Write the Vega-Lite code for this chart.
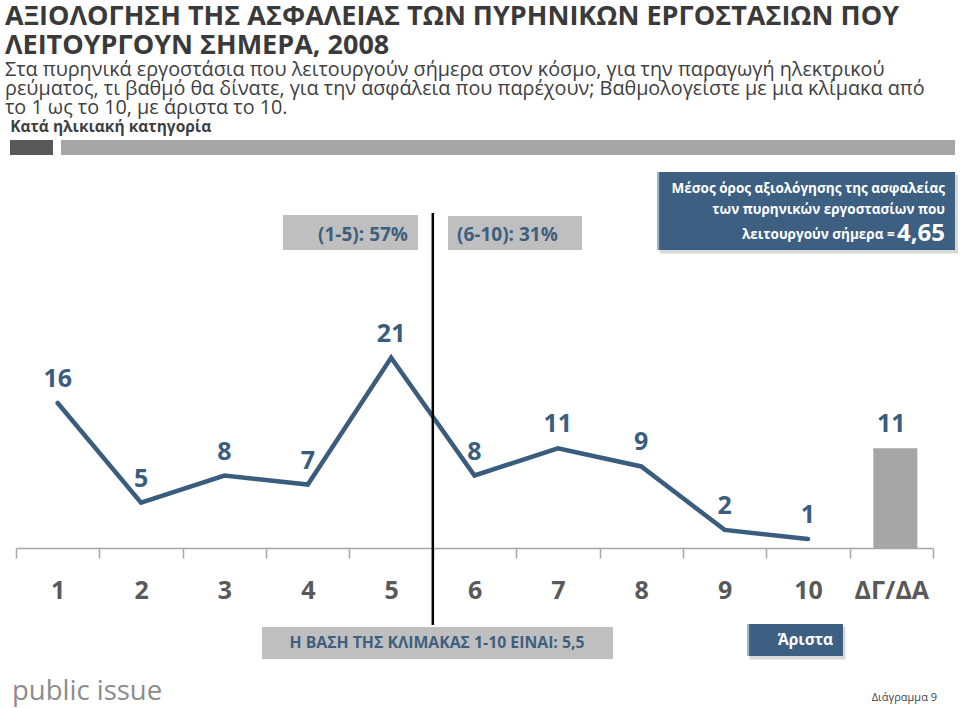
{
  "$schema": "https://vega.github.io/schema/vega-lite/v6.json",
  "width": 917,
  "height": 435,
  "autosize": {"type": "none"},
  "padding": {"left": 16, "right": 27, "top": 113, "bottom": 160},
  "background": "white",
  "config": {"font": "Open Sans", "view": {"stroke": null}, "scale": {"continuousPadding": 0}},
  "title": {
    "text": ["ΑΞΙΟΛΟΓΗΣΗ ΤΗΣ ΑΣΦΑΛΕΙΑΣ ΤΩΝ ΠΥΡΗΝΙΚΩΝ ΕΡΓΟΣΤΑΣΙΩΝ ΠΟΥ", "ΛΕΙΤΟΥΡΓΟΥΝ ΣΗΜΕΡΑ, 2008"],
    "subtitle": ["Στα πυρηνικά εργοστάσια που λειτουργούν σήμερα στον κόσμο, για την παραγωγή ηλεκτρικού", "ρεύματος, τι βαθμό θα δίνατε, για την ασφάλεια που παρέχουν; Βαθμολογείστε με μια κλίμακα από", "το 1 ως το 10, με άριστα το 10."],
    "anchor": "start",
    "frame": "group",
    "dx": -11,
    "offset": -6,
    "font": "Open Sans",
    "fontSize": 27,
    "fontWeight": "bold",
    "color": "#3a3a3a",
    "lineHeight": 29,
    "subtitleFont": "Open Sans",
    "subtitleFontSize": 19.8,
    "subtitleColor": "#404040",
    "subtitleLineHeight": 19,
    "subtitlePadding": 0
  },
  "datasets": {
    "scores": [
      {"score": "1", "n": 1, "pct": 16, "kind": "scale"},
      {"score": "2", "n": 2, "pct": 5, "kind": "scale"},
      {"score": "3", "n": 3, "pct": 8, "kind": "scale"},
      {"score": "4", "n": 4, "pct": 7, "kind": "scale"},
      {"score": "5", "n": 5, "pct": 21, "kind": "scale"},
      {"score": "6", "n": 6, "pct": 8, "kind": "scale"},
      {"score": "7", "n": 7, "pct": 11, "kind": "scale"},
      {"score": "8", "n": 8, "pct": 9, "kind": "scale"},
      {"score": "9", "n": 9, "pct": 2, "kind": "scale"},
      {"score": "10", "n": 10, "pct": 1, "kind": "scale"},
      {"score": "ΔΓ/ΔΑ", "n": 11, "pct": 11, "kind": "dkna"}
    ]
  },
  "layer": [
    {
      "data": {"name": "scores"},
      "transform": [{"filter": "datum.kind == 'dkna'"}],
      "mark": {"type": "bar", "width": 44, "color": "#a6a6a6", "xOffset": 4},
      "encoding": {
        "x": {
          "field": "n", "type": "quantitative",
          "scale": {"domain": [0.5, 11.5], "nice": false, "zero": false, "padding": 0},
          "axis": {
            "values": [0.5, 1.5, 2.5, 3.5, 4.5, 5.5, 6.5, 7.5, 8.5, 9.5, 10.5, 11.5],
            "labelExpr": "datum.value > 11 ? '' : datum.value > 10 ? 'ΔΓ/ΔΑ' : format(datum.value + 0.5, 'd')",
            "labelOffset": 41.7,
            "labelFont": "Open Sans",
            "labelFontSize": 25,
            "labelFontWeight": "bold",
            "labelColor": "#595959",
            "labelPadding": 20,
            "labelFlush": false,
            "labelOverlap": false,
            "labelBound": false,
            "title": null,
            "grid": false,
            "domainColor": "#a6a6a6",
            "domainWidth": 1.5,
            "tickColor": "#a6a6a6",
            "tickWidth": 1.5,
            "tickSize": 10
          }
        },
        "y": {"field": "pct", "type": "quantitative", "scale": {"domain": [0, 48], "nice": false, "zero": true}, "axis": null}
      }
    },
    {
      "data": {"name": "scores"},
      "transform": [{"filter": "datum.kind == 'scale'"}],
      "mark": {"type": "line", "color": "#3a5d7e", "strokeWidth": 4.5, "strokeCap": "round", "strokeJoin": "miter"},
      "encoding": {
        "x": {"field": "n", "type": "quantitative"},
        "y": {"field": "pct", "type": "quantitative"}
      }
    },
    {
      "data": {"name": "scores"},
      "mark": {"type": "text", "dy": -24, "baseline": "middle", "fontSize": 25, "fontWeight": "bold", "color": "#3a5d7e"},
      "encoding": {
        "x": {"field": "n", "type": "quantitative"},
        "y": {"field": "pct", "type": "quantitative"},
        "text": {"field": "pct", "type": "quantitative"}
      }
    },
    {
      "data": {"values": [{"t": "Κατά ηλικιακή κατηγορία"}]},
      "mark": {"type": "text", "align": "left", "baseline": "middle", "fontSize": 15.5, "fontWeight": "bold", "color": "#3f3f3f"},
      "encoding": {"text": {"field": "t", "type": "nominal"}, "x": {"datum": 0.43, "type": "quantitative"}, "y": {"datum": 46.5, "type": "quantitative"}}
    },
    {
      "data": {"values": [{"t": "dark"}]},
      "mark": {"type": "rect", "color": "#595959"},
      "encoding": {"x": {"datum": 0.428, "type": "quantitative"}, "x2": {"datum": 0.944}, "y": {"datum": 45.02, "type": "quantitative"}, "y2": {"datum": 43.37}}
    },
    {
      "data": {"values": [{"t": "light"}]},
      "mark": {"type": "rect", "color": "#a6a6a6"},
      "encoding": {"x": {"datum": 1.04, "type": "quantitative"}, "x2": {"datum": 11.764}, "y": {"datum": 45.02, "type": "quantitative"}, "y2": {"datum": 43.37}}
    },
    {
      "data": {"values": [{"t": "(1-5)"}]},
      "mark": {"type": "rect", "color": "#bfbfbf"},
      "encoding": {"x": {"datum": 3.703, "type": "quantitative"}, "x2": {"datum": 5.322}, "y": {"datum": 36.74, "type": "quantitative"}, "y2": {"datum": 32.88}}
    },
    {
      "data": {"values": [{"t": "(1-5): 57%"}]},
      "mark": {"type": "text", "align": "right", "baseline": "middle", "fontSize": 19, "fontWeight": "bold", "color": "#3f5f7f"},
      "encoding": {"text": {"field": "t", "type": "nominal"}, "x": {"datum": 5.202, "type": "quantitative"}, "y": {"datum": 34.5, "type": "quantitative"}}
    },
    {
      "data": {"values": [{"t": "(6-10)"}]},
      "mark": {"type": "rect", "color": "#bfbfbf"},
      "encoding": {"x": {"datum": 5.682, "type": "quantitative"}, "x2": {"datum": 7.29}, "y": {"datum": 36.63, "type": "quantitative"}, "y2": {"datum": 32.88}}
    },
    {
      "data": {"values": [{"t": "(6-10): 31%"}]},
      "mark": {"type": "text", "align": "left", "baseline": "middle", "fontSize": 19, "fontWeight": "bold", "color": "#3f5f7f"},
      "encoding": {"text": {"field": "t", "type": "nominal"}, "x": {"datum": 5.79, "type": "quantitative"}, "y": {"datum": 34.5, "type": "quantitative"}}
    },
    {
      "data": {"values": [{"t": "base"}]},
      "mark": {"type": "rule", "color": "#000000", "strokeWidth": 2.5},
      "encoding": {"x": {"datum": 5.5, "type": "quantitative"}, "y": {"datum": 36.97, "type": "quantitative"}, "y2": {"datum": -8.5}}
    },
    {
      "data": {"values": [{"t": "shadow"}]},
      "mark": {"type": "rect", "color": "#c8c8c8", "opacity": 0.7},
      "encoding": {"x": {"datum": 8.22, "type": "quantitative"}, "x2": {"datum": 11.8}, "y": {"datum": 41.2, "type": "quantitative"}, "y2": {"datum": 32.5}}
    },
    {
      "data": {"values": [{"t": "mean"}]},
      "mark": {"type": "rect", "color": "#3d5f82"},
      "encoding": {"x": {"datum": 8.189, "type": "quantitative"}, "x2": {"datum": 11.764}, "y": {"datum": 41.49, "type": "quantitative"}, "y2": {"datum": 32.88}}
    },
    {
      "data": {"values": [{"t": "edge"}]},
      "mark": {"type": "rect", "color": "#9fb3c8"},
      "encoding": {"x": {"datum": 8.189, "type": "quantitative"}, "x2": {"datum": 8.215}, "y": {"datum": 41.49, "type": "quantitative"}, "y2": {"datum": 32.88}}
    },
    {
      "data": {"values": [{"t": "Μέσος όρος αξιολόγησης της ασφαλείας"}]},
      "mark": {"type": "text", "align": "right", "baseline": "alphabetic", "fontSize": 13.5, "fontWeight": "bold", "color": "#ffffff"},
      "encoding": {"text": {"field": "t", "type": "nominal"}, "x": {"datum": 11.644, "type": "quantitative"}, "y": {"datum": 39.17, "type": "quantitative"}}
    },
    {
      "data": {"values": [{"t": "των πυρηνικών εργοστασίων που"}]},
      "mark": {"type": "text", "align": "right", "baseline": "alphabetic", "fontSize": 13.5, "fontWeight": "bold", "color": "#ffffff"},
      "encoding": {"text": {"field": "t", "type": "nominal"}, "x": {"datum": 11.644, "type": "quantitative"}, "y": {"datum": 36.86, "type": "quantitative"}}
    },
    {
      "data": {"values": [{"t": "λειτουργούν σήμερα ="}]},
      "mark": {"type": "text", "align": "right", "baseline": "alphabetic", "fontSize": 13.5, "fontWeight": "bold", "color": "#ffffff"},
      "encoding": {"text": {"field": "t", "type": "nominal"}, "x": {"datum": 11.04, "type": "quantitative"}, "y": {"datum": 34.1, "type": "quantitative"}}
    },
    {
      "data": {"values": [{"t": "4,65"}]},
      "mark": {"type": "text", "align": "right", "baseline": "alphabetic", "fontSize": 24, "fontWeight": "bold", "color": "#ffffff"},
      "encoding": {"text": {"field": "t", "type": "nominal"}, "x": {"datum": 11.644, "type": "quantitative"}, "y": {"datum": 33.88, "type": "quantitative"}}
    },
    {
      "data": {"values": [{"t": "basebox"}]},
      "mark": {"type": "rect", "color": "#bfbfbf"},
      "encoding": {"x": {"datum": 3.451, "type": "quantitative"}, "x2": {"datum": 7.661}, "y": {"datum": -8.72, "type": "quantitative"}, "y2": {"datum": -12.25}}
    },
    {
      "data": {"values": [{"t": "Η ΒΑΣΗ ΤΗΣ ΚΛΙΜΑΚΑΣ 1-10 ΕΙΝΑΙ: 5,5"}]},
      "mark": {"type": "text", "align": "center", "baseline": "middle", "fontSize": 15.8, "fontWeight": "bold", "color": "#3f5f7f"},
      "encoding": {"text": {"field": "t", "type": "nominal"}, "x": {"datum": 5.55, "type": "quantitative"}, "y": {"datum": -10.48, "type": "quantitative"}}
    },
    {
      "data": {"values": [{"t": "shadow2"}]},
      "mark": {"type": "rect", "color": "#c8c8c8", "opacity": 0.7},
      "encoding": {"x": {"datum": 9.3, "type": "quantitative"}, "x2": {"datum": 10.45}, "y": {"datum": -8.7, "type": "quantitative"}, "y2": {"datum": -12.3}}
    },
    {
      "data": {"values": [{"t": "aristabox"}]},
      "mark": {"type": "rect", "color": "#3d5f82"},
      "encoding": {"x": {"datum": 9.269, "type": "quantitative"}, "x2": {"datum": 10.42}, "y": {"datum": -8.39, "type": "quantitative"}, "y2": {"datum": -11.92}}
    },
    {
      "data": {"values": [{"t": "edge2"}]},
      "mark": {"type": "rect", "color": "#9fb3c8"},
      "encoding": {"x": {"datum": 9.269, "type": "quantitative"}, "x2": {"datum": 9.295}, "y": {"datum": -8.39, "type": "quantitative"}, "y2": {"datum": -11.92}}
    },
    {
      "data": {"values": [{"t": "Άριστα"}]},
      "mark": {"type": "text", "align": "center", "baseline": "middle", "fontSize": 15.5, "fontWeight": "bold", "color": "#ffffff"},
      "encoding": {"text": {"field": "t", "type": "nominal"}, "x": {"datum": 9.97, "type": "quantitative"}, "y": {"datum": -10.15, "type": "quantitative"}}
    },
    {
      "data": {"values": [{"t": "public issue"}]},
      "mark": {"type": "text", "align": "left", "baseline": "middle", "fontSize": 27.5, "color": "#8c8c8c"},
      "encoding": {"text": {"field": "t", "type": "nominal"}, "x": {"datum": 0.452, "type": "quantitative"}, "y": {"datum": -15.89, "type": "quantitative"}}
    },
    {
      "data": {"values": [{"t": "Διάγραμμα 9"}]},
      "mark": {"type": "text", "align": "right", "baseline": "middle", "fontSize": 11, "color": "#404040"},
      "encoding": {"text": {"field": "t", "type": "nominal"}, "x": {"datum": 11.548, "type": "quantitative"}, "y": {"datum": -16.55, "type": "quantitative"}}
    }
  ]
}
